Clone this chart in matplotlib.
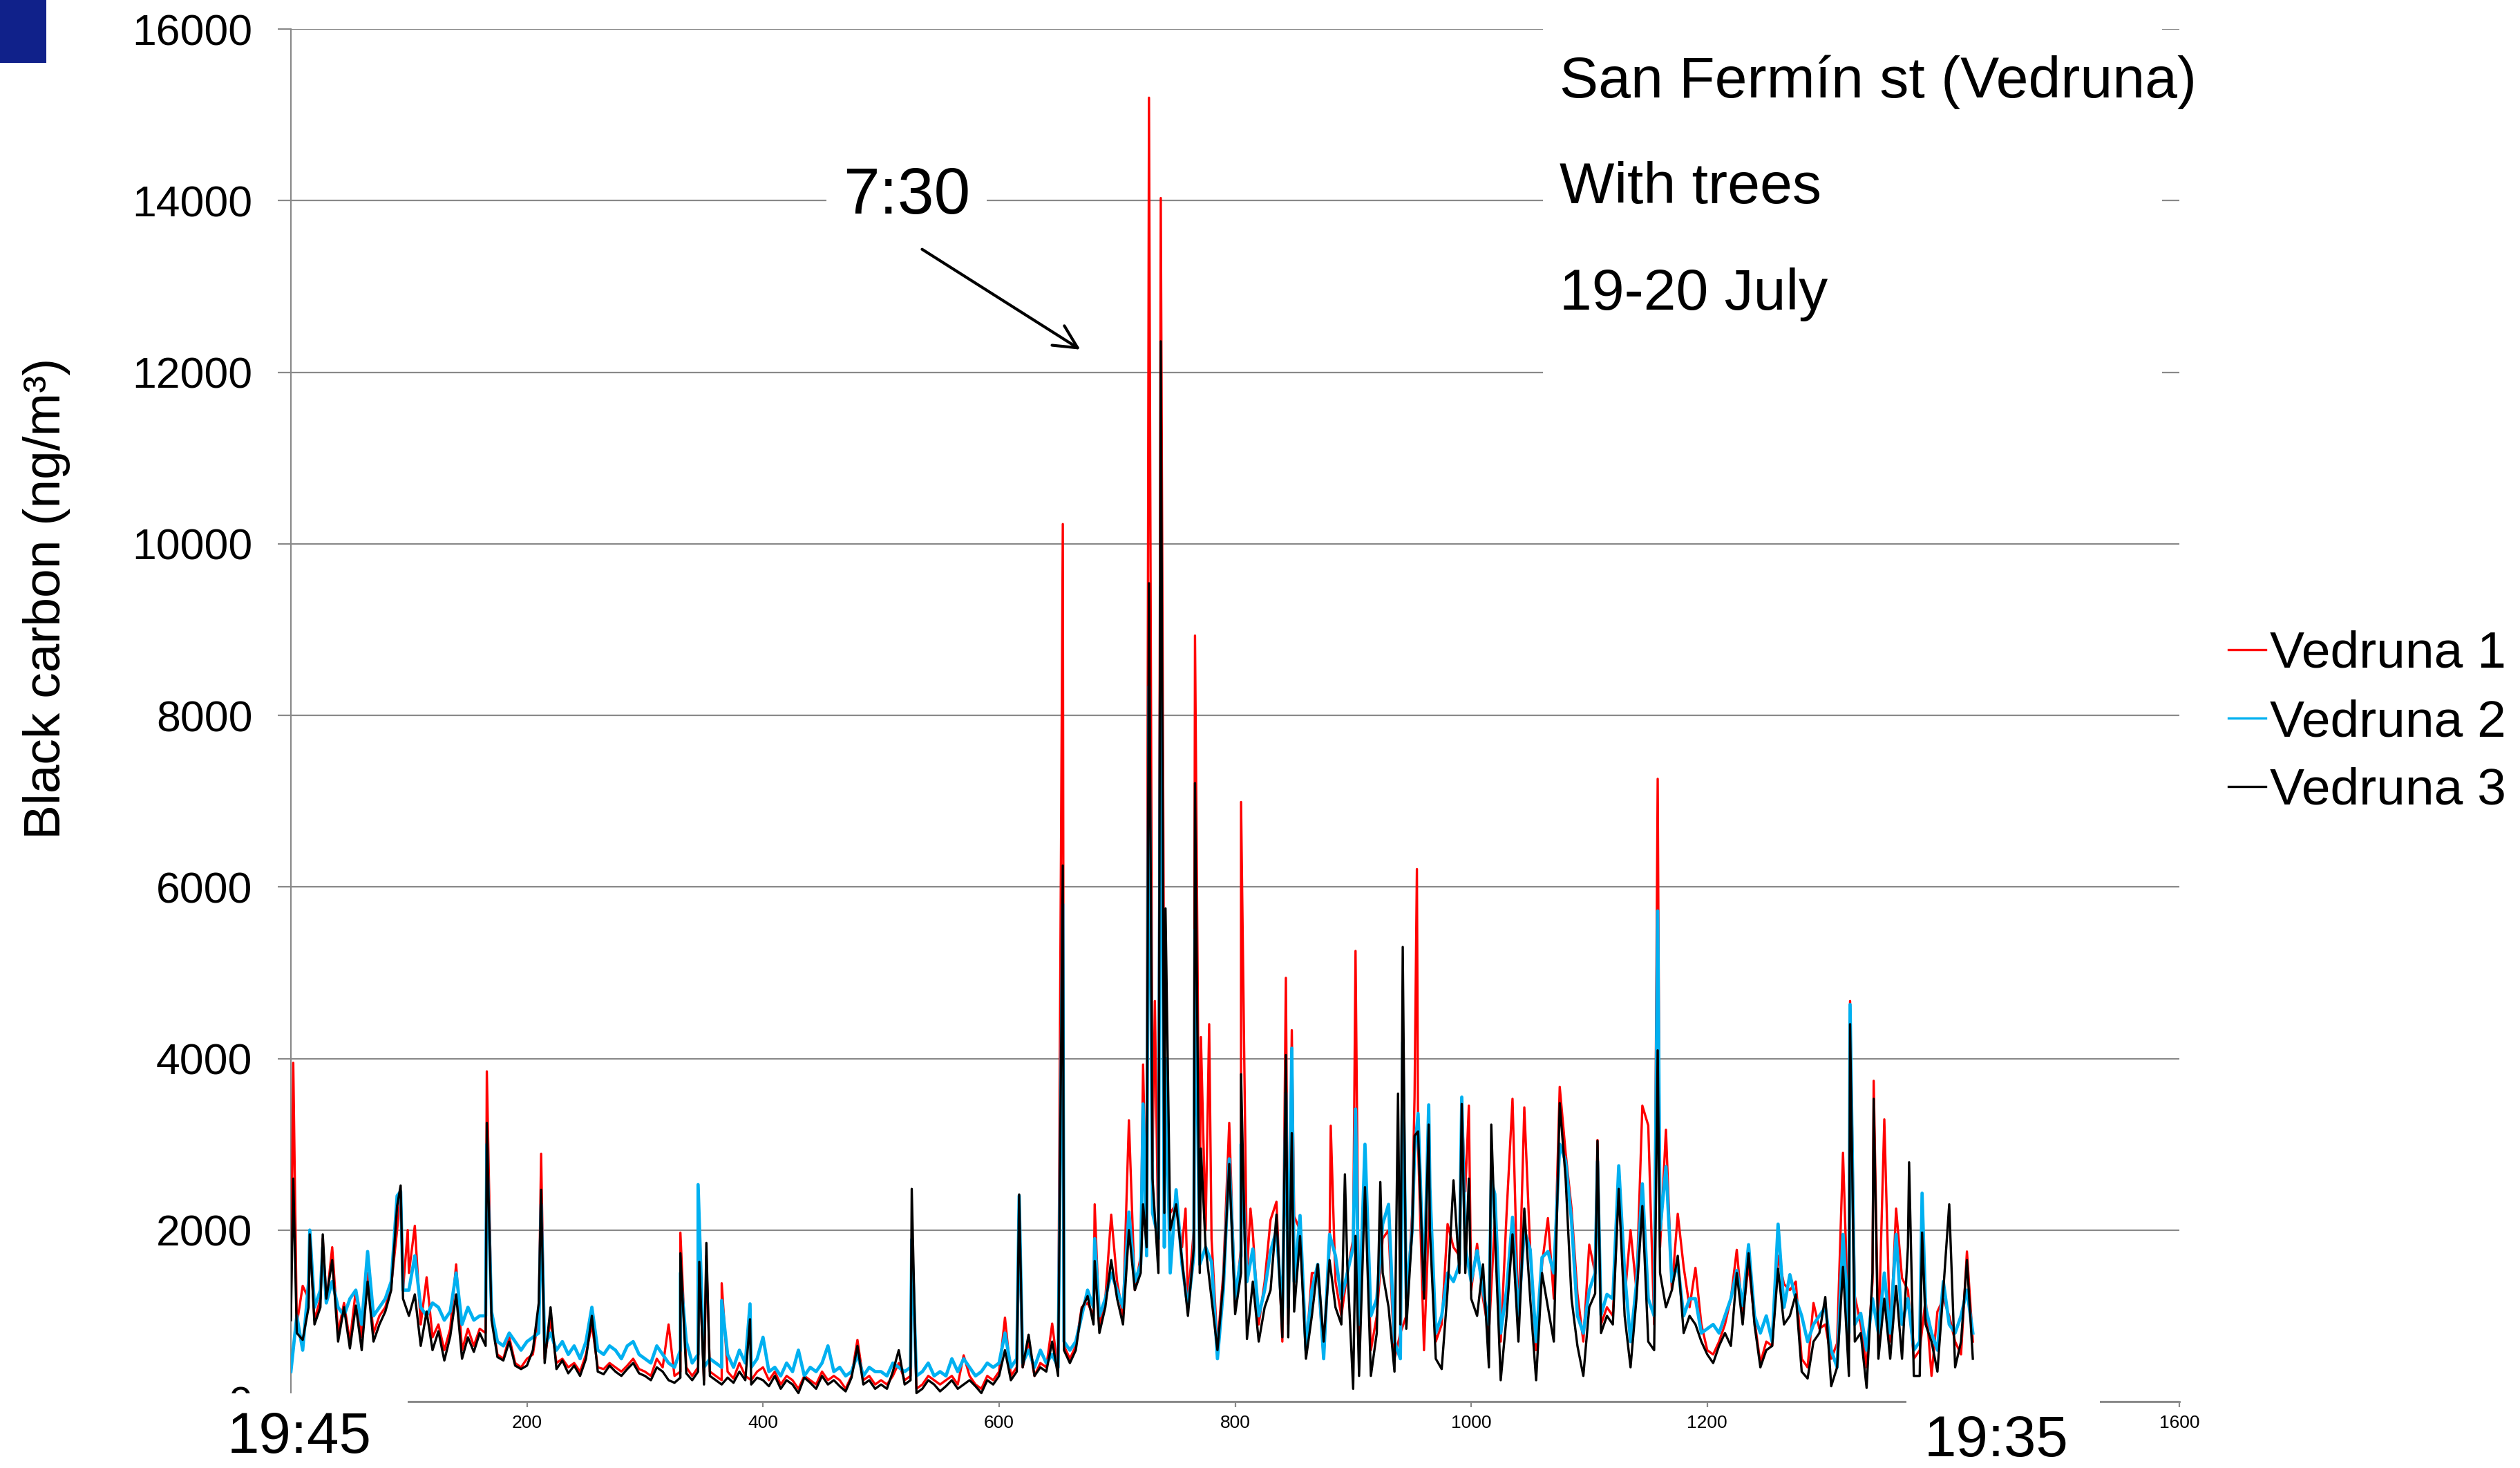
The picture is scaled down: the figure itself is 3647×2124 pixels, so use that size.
import numpy as np
import matplotlib.pyplot as plt
from matplotlib.patches import Rectangle

plt.rcParams['font.family'] = ['Liberation Sans', 'DejaVu Sans']

# minutes since the start of the run (19:45), one reading every 5 min
t_grid = np.arange(0, 1430, 5)

# Vedruna 3 (black)
black = [
    950, 800, 720, 1100, 900, 1100, 1200, 1650, 700, 1100, 620, 1120, 600, 1400, 700, 900, 1050, 1300, 2280, 1200,
    1000, 1250, 650, 1050, 600, 820, 480, 760, 1250, 500, 750, 580, 800, 650, 950, 520, 480, 700, 420, 380,
    420, 600, 1150, 450, 1100, 380, 480, 330, 420, 300, 500, 1000, 350, 320, 420, 350, 300, 380, 450, 330,
    300, 250, 400, 350, 250, 220, 280, 330, 250, 350, 200, 300, 250, 200, 280, 220, 350, 250, 200, 280,
    250, 180, 300, 150, 250, 200, 100, 280, 220, 150, 300, 200, 250, 180, 120, 280, 650, 200, 250, 150,
    200, 150, 350, 600, 200, 250, 100, 150, 250, 200, 120, 180, 250, 150, 200, 250, 180, 100, 250, 200,
    300, 600, 250, 350, 400, 780, 300, 400, 350, 700, 300, 600, 450, 600, 1080, 1230, 900, 800, 1100, 1650,
    1200, 900, 2000, 1300, 1500, 1800, 2600, 1500, 2200, 2000, 2300, 1650, 1000, 1800, 1500, 1800, 1200, 600, 1400, 2770,
    1020, 1500, 730, 1400, 700, 1100, 1300, 2180, 750, 750, 1050, 1930, 500, 1000, 1600, 700, 1650, 1100, 900, 1600,
    150, 300, 2500, 300, 800, 1500, 1100, 350, 900, 850, 2000, 3150, 1200, 2000, 500, 380, 1300, 2580, 1500, 1500,
    1200, 1000, 1600, 400, 2000, 250, 1000, 1950, 700, 2250, 1200, 250, 1500, 1100, 700, 3480, 2600, 1200, 650, 300,
    1100, 1260, 800, 1000, 900, 2480, 1000, 400, 1200, 2280, 700, 600, 1500, 1100, 1300, 1700, 800, 1000, 900, 700,
    550, 450, 650, 800, 650, 1500, 900, 1730, 900, 400, 600, 650, 1550, 900, 1000, 1250, 350, 270, 700, 800,
    1220, 180, 400, 1570, 300, 700, 800, 160, 1500, 500, 1200, 500, 1350, 500, 1800, 300, 300, 900, 700, 350,
    1300, 2300, 400, 700, 1650, 500,
]
black_peak_t = [2, 16, 27, 93, 166, 212, 330, 346, 352, 389, 526, 617, 654, 681, 722, 727, 737, 741, 766, 771,
                805, 843, 848, 893, 902, 923, 938, 942, 952, 964, 992, 998, 1017, 1107, 1158, 1321, 1341, 1371, 1382]
black_peak_v = [2600, 1950, 1950, 2520, 3250, 2470, 1730, 1630, 1850, 960, 2480, 2415, 6250, 1640, 2300, 9540,
                12360, 5750, 7210, 2950, 3816, 4040, 3130, 2650, 1932, 2560, 3591, 5300, 3100, 3230, 3470, 2600,
                3230, 3040, 4095, 4400, 3530, 2790, 1970]

# Vedruna 2 (blue)
blue = [
    350, 1000, 600, 1400, 1100, 1300, 1150, 1400, 1100, 1000, 1200, 1300, 900, 1750, 1000, 1100, 1200, 1400, 2400, 1300,
    1300, 1700, 1100, 1000, 1150, 1100, 950, 1050, 1500, 900, 1100, 950, 1000, 1000, 1050, 700, 650, 800, 700, 600,
    700, 750, 800, 650, 800, 600, 700, 550, 650, 500, 700, 1100, 600, 550, 650, 600, 500, 650, 700, 550,
    500, 450, 650, 550, 450, 400, 600, 700, 450, 550, 400, 500, 450, 400, 550, 400, 600, 450, 400, 500,
    750, 350, 400, 300, 450, 350, 600, 300, 400, 350, 450, 650, 350, 400, 300, 350, 550, 300, 400, 350,
    350, 300, 450, 400, 350, 400, 300, 350, 450, 300, 350, 300, 500, 350, 500, 400, 300, 350, 450, 400,
    450, 800, 400, 500, 450, 600, 400, 600, 450, 550, 400, 700, 600, 700, 1000, 1300, 1100, 1000, 1200, 1500,
    1300, 1100, 2210, 1400, 1600, 1700, 2200, 1900, 1800, 1500, 2470, 1600, 1100, 1700, 1600, 1800, 1630, 500, 1300, 2830,
    1200, 1700, 1400, 1780, 1000, 1300, 1750, 2000, 1000, 1100, 1400, 2170, 600, 1300, 1600, 500, 1950, 1700, 1200, 1500,
    1800, 900, 3000, 1000, 1200, 2070, 2300, 700, 500, 1200, 2000, 3360, 1300, 2500, 800, 1000, 1500, 1400, 1600, 1800,
    1400, 1760, 1300, 900, 2420, 800, 1300, 2150, 1000, 2000, 1770, 700, 1680, 1750, 1500, 3000, 2800, 2110, 1000, 800,
    1300, 1500, 1010, 1250, 1200, 2750, 1500, 700, 1370, 2540, 1200, 1000, 2000, 2740, 1400, 1600, 1000, 1200, 1200, 800,
    850, 900, 800, 1000, 1200, 1530, 1120, 1830, 1000, 800, 1000, 700, 2070, 1100, 1480, 1200, 1000, 700, 900, 1000,
    1100, 600, 400, 1950, 800, 900, 1030, 600, 1200, 800, 1500, 800, 1950, 900, 1200, 600, 700, 1100, 800, 600,
    1400, 900, 800, 1000, 1300, 800,
]
blue_peak_t = [16, 27, 93, 166, 212, 330, 345, 365, 389, 526, 617, 654, 681, 722, 727, 737, 741, 766,
               805, 843, 848, 902, 942, 952, 964, 992, 1017, 1107, 1158, 1321, 1382]
blue_peak_v = [2000, 1800, 2450, 3000, 2300, 1500, 2530, 1180, 1140, 1890, 2400, 5800, 1900, 3470, 8340, 9500,
               4000, 5500, 3000, 3600, 4120, 3411, 4190, 2900, 3460, 3550, 2580, 2800, 5720, 4630, 2430]

# Vedruna 1 (red)
red = [
    1000, 900, 1350, 1200, 950, 1200, 1150, 1800, 800, 1150, 700, 1300, 750, 1500, 800, 1000, 1100, 1350, 2000, 1300,
    1500, 2050, 900, 1450, 750, 900, 600, 850, 1600, 600, 850, 650, 850, 800, 1000, 550, 500, 750, 450, 400,
    500, 550, 1000, 500, 950, 450, 500, 400, 450, 350, 550, 900, 400, 380, 450, 400, 350, 420, 500, 380,
    350, 300, 500, 400, 900, 300, 350, 400, 300, 400, 250, 350, 300, 250, 350, 270, 450, 300, 250, 350,
    400, 250, 350, 200, 300, 250, 150, 300, 250, 200, 350, 250, 300, 250, 150, 300, 720, 250, 300, 200,
    250, 200, 300, 450, 250, 300, 150, 200, 300, 250, 200, 250, 300, 200, 540, 300, 200, 150, 300, 250,
    350, 980, 300, 400, 400, 700, 300, 450, 400, 910, 350, 650, 500, 650, 1100, 1150, 1000, 900, 1200, 2180,
    1400, 1000, 3280, 1300, 1700, 2000, 2800, 1700, 3800, 2200, 2300, 1800, 1200, 2000, 1800, 2000, 1900, 650, 1500, 3250,
    1100, 1800, 1500, 1960, 900, 1400, 2120, 2330, 700, 900, 2160, 2000, 550, 1500, 1500, 500, 1800, 1400, 1000, 1500,
    1900, 700, 2800, 600, 1000, 1900, 2000, 500, 800, 1000, 2200, 3000, 600, 2400, 700, 900, 2070, 1800, 1700, 2450,
    1300, 1840, 1200, 800, 2100, 700, 2200, 3530, 900, 3430, 1770, 600, 1600, 2140, 1200, 3670, 2900, 2250, 1260, 700,
    1830, 1500, 900, 1100, 1000, 2500, 1200, 2000, 1300, 3450, 3220, 900, 1800, 3170, 1300, 2190, 1570, 1100, 1560, 900,
    600, 550, 700, 900, 1200, 1770, 1000, 1600, 950, 450, 700, 650, 1700, 1370, 1300, 1400, 500, 400, 1150, 850,
    900, 500, 680, 2900, 700, 1230, 900, 400, 1400, 700, 3290, 700, 2250, 1440, 1300, 500, 600, 1200, 300, 1050,
    1200, 1000, 700, 550, 1750, 700,
]
red_peak_t = [2, 16, 27, 93, 99, 166, 212, 330, 346, 352, 365, 526, 617, 654, 681, 722, 727, 732, 737, 758,
              766, 771, 778, 805, 813, 843, 848, 881, 902, 952, 954, 992, 998, 1107, 1158, 1321, 1341]
red_peak_v = [3950, 1900, 1900, 2450, 2000, 3850, 2890, 1970, 1600, 1700, 1380, 1800, 2000, 10230, 2300, 3930,
              15200, 4670, 14030, 2250, 8930, 4250, 4400, 6990, 2250, 4940, 4330, 3216, 5254, 3550, 6208, 3450,
              3450, 3050, 7260, 4670, 3740]

labels = ['Vedruna 1', 'Vedruna 2', 'Vedruna 3']
xticks = [200, 400, 600, 800, 1000, 1200, 1400, 1600]
xtick_labels = ['200', '400', '600', '800', '1000', '1200', '', '1600']  # 1400 sits under the end-time label


def merge(base, peak_t, peak_v):
    # regular readings plus the short peaks, in time order
    t_all = np.concatenate([t_grid, peak_t])
    v_all = np.concatenate([base, peak_v])
    order = np.argsort(t_all, kind='stable')
    return t_all[order], v_all[order]


fig = plt.figure(figsize=(18.24, 10.62), dpi=200)
ax = fig.add_axes([0.1154, 0.0452, 0.7492, 0.935])

grey = '#898989'
x1, y1 = merge(red, red_peak_t, red_peak_v)
x2, y2 = merge(blue, blue_peak_t, blue_peak_v)
x3, y3 = merge(black, black_peak_t, black_peak_v)
ax.plot(x1, y1, color='#ff0000', lw=1.2, label=labels[0], zorder=3)
ax.plot(x2, y2, color='#00b0f0', lw=1.7, label=labels[1], zorder=4)
ax.plot(x3, y3, color='black', lw=1.2, label=labels[2], zorder=5)

ax.set_xlim(0, 1600)
ax.set_ylim(0, 16000)
ax.set_yticks(np.arange(0, 16001, 2000))
ax.set_xticks(xticks)
ax.set_xticklabels(xtick_labels)
ax.grid(axis='y', color=grey, lw=0.8)
ax.set_axisbelow(True)
for side in ['top', 'right']:
    ax.spines[side].set_visible(False)
ax.spines['left'].set_color(grey)
ax.spines['bottom'].set_color(grey)
ax.spines['left'].set_linewidth(0.8)
ax.spines['bottom'].set_linewidth(1.0)
ax.tick_params(axis='y', length=7, width=0.8, color=grey, pad=13, labelsize=22.5)
ax.tick_params(axis='x', length=3, width=0.8, color=grey, pad=4, labelsize=9.5)

leg = ax.legend(loc='upper left', bbox_to_anchor=(3225 / 3648, 1 - 912 / 2124), bbox_transform=fig.transFigure,
                frameon=False, fontsize=27, handlelength=0.72, handletextpad=0.08, labelspacing=0.4,
                borderpad=0, borderaxespad=0)
for line in leg.get_lines():
    line.set_linewidth(1.2)

fig.text(68 / 3648, 1 - 866 / 2124, 'Black carbon (ng/m³)', rotation=90, ha='center', va='center', fontsize=27)

# white boxes behind the time labels and the site caption
fig.add_artist(Rectangle((0.0822, 0), 0.0795, 0.0508, transform=fig.transFigure, fc='white', ec='none', zorder=6))
fig.add_artist(Rectangle((0.7563, 0), 0.0768, 0.0499, transform=fig.transFigure, fc='white', ec='none', zorder=6))
fig.add_artist(Rectangle((0.6121, 0.7222), 0.2456, 0.2778, transform=fig.transFigure, fc='white', ec='none', zorder=6))
fig.add_artist(Rectangle((0, 0.9572), 0.0184, 0.0428, transform=fig.transFigure, fc='#10218a', ec='none', zorder=6))

fig.text(433 / 3648, 1 - 2080 / 2124, '19:45', ha='center', va='center', fontsize=30, zorder=7)
fig.text(2889 / 3648, 1 - 2085 / 2124, '19:35', ha='center', va='center', fontsize=30, zorder=7)

fig.text(0.6187, 0.9336, 'San Fermín st (Vedruna)', va='baseline', fontsize=30.3, zorder=7)
fig.text(0.6187, 0.8616, 'With trees', va='baseline', fontsize=30.3, zorder=7)
fig.text(0.6187, 0.7891, '19-20 July', va='baseline', fontsize=30.3, zorder=7)

ax.text(521.7, 14045, '7:30', ha='center', va='center', fontsize=34, zorder=8,
        bbox=dict(fc='white', ec='none', boxstyle='square,pad=0.25'))
ax.annotate('', xy=(671.6, 12240), xytext=(532, 13457),
            arrowprops=dict(arrowstyle='->', lw=1.5, color='black', mutation_scale=30))

plt.savefig('out.png', dpi=200)
